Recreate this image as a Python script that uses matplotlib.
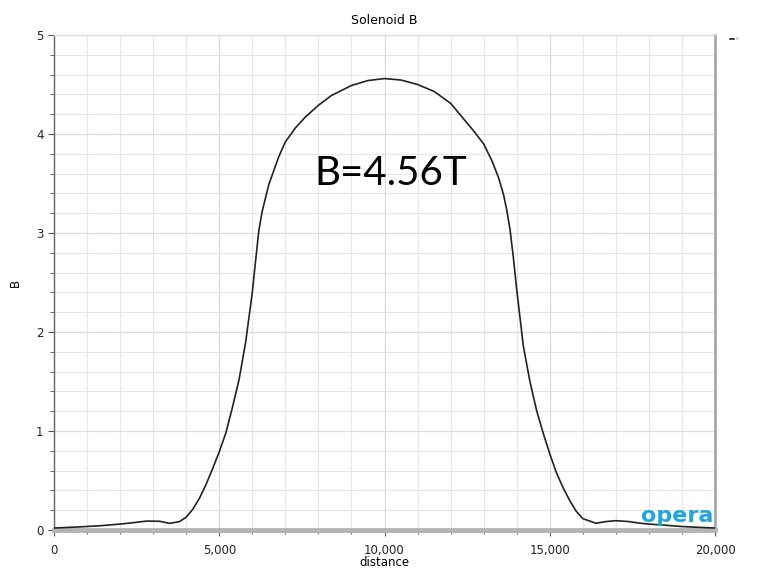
"""Solenoid B: perfil del campo a lo largo del eje."""
import matplotlib

matplotlib.use("Agg")
import matplotlib.pyplot as plt  # noqa: E402
from matplotlib.ticker import FuncFormatter, MultipleLocator  # noqa: E402

# datos
distance = [0, 700, 1400, 2000, 2400, 2800, 3200, 3500, 3800, 4000, 4200,
            4400, 4600, 4800, 5000, 5200, 5400, 5600, 5800, 6000, 6100, 6200,
            6300, 6500, 6800, 7000, 7300, 7600, 8000, 8400, 9000, 9500, 10000,
            10500, 11000, 11500, 12000, 12300, 12700, 13000, 13250, 13450,
            13600, 13700, 13800, 13900, 14000, 14200, 14400, 14600, 14800,
            15000, 15200, 15400, 15600, 15800, 16000, 16400, 16700, 17000,
            17400, 17700, 18000, 18500, 19000, 19500, 20000]
field_b = [0.020, 0.030, 0.043, 0.060, 0.074, 0.090, 0.088, 0.067, 0.085,
           0.130, 0.210, 0.320, 0.460, 0.620, 0.790, 0.980, 1.240, 1.520,
           1.900, 2.400, 2.720, 3.030, 3.220, 3.490, 3.770, 3.920, 4.060,
           4.170, 4.290, 4.390, 4.490, 4.540, 4.560, 4.545, 4.500, 4.430,
           4.310, 4.190, 4.030, 3.900, 3.730, 3.560, 3.390, 3.230, 3.030,
           2.750, 2.430, 1.860, 1.500, 1.210, 0.980, 0.770, 0.580, 0.430,
           0.300, 0.190, 0.115, 0.068, 0.085, 0.094, 0.085, 0.070, 0.060,
           0.048, 0.035, 0.027, 0.020]

TITLE = "Solenoid B"
ANNOTATION = "B=4.56T"

fig = plt.figure(figsize=(7.6, 5.68), dpi=100)
ax = fig.add_axes([54 / 760, 1 - 530 / 568, (715 - 54) / 760, (530 - 35) / 568])

ax.plot(distance, field_b, color="#222222", lw=1.2, label="B", zorder=3)

ax.set_xlim(0, 20000)
ax.set_ylim(0, 5)
ax.xaxis.set_major_locator(MultipleLocator(5000))
ax.xaxis.set_minor_locator(MultipleLocator(1000))
ax.yaxis.set_major_locator(MultipleLocator(1))
ax.yaxis.set_minor_locator(MultipleLocator(0.2))
ax.xaxis.set_major_formatter(FuncFormatter(lambda v, _: f"{int(v):,}"))

ax.grid(which="major", color="#dcdcdc", lw=0.9)
ax.grid(which="minor", color="#e6e6e6", lw=0.8)
ax.set_axisbelow(True)

ax.tick_params(which="both", direction="out", colors="#555555",
               labelcolor="#222222", labelsize=8.5)
ax.tick_params(which="major", length=4, width=0.8)
ax.tick_params(which="minor", length=3, width=0.6)
ax.tick_params(axis="x", which="both", pad=6)

for side, col, lw in [("bottom", "#b4b4b4", 3.5), ("right", "#a8a8a8", 2.0),
                      ("top", "#dddddd", 1.0), ("left", "#666666", 1.0)]:
    ax.spines[side].set_color(col)
    ax.spines[side].set_linewidth(lw)

ax.set_title(TITLE, fontsize=9, pad=8)
ax.set_xlabel("distance", fontsize=8.5, labelpad=-1)
ax.set_ylabel("B", fontsize=8.5, labelpad=10)

ax.text(10200, 3.6, ANNOTATION, fontsize=29, family="Lato",
        ha="center", va="center", color="black")
ax.text(0.997, 0.008, "opera", transform=ax.transAxes, fontsize=16,
        fontweight="bold", color="#1ea6dd", ha="right", va="bottom")

leg = ax.legend(loc="upper left", bbox_to_anchor=(1.02, 1.0), frameon=False,
                fontsize=3, handlelength=1.0, handletextpad=0.2,
                labelcolor="#999999", borderpad=0)

fig.savefig("out.png", dpi=100)
